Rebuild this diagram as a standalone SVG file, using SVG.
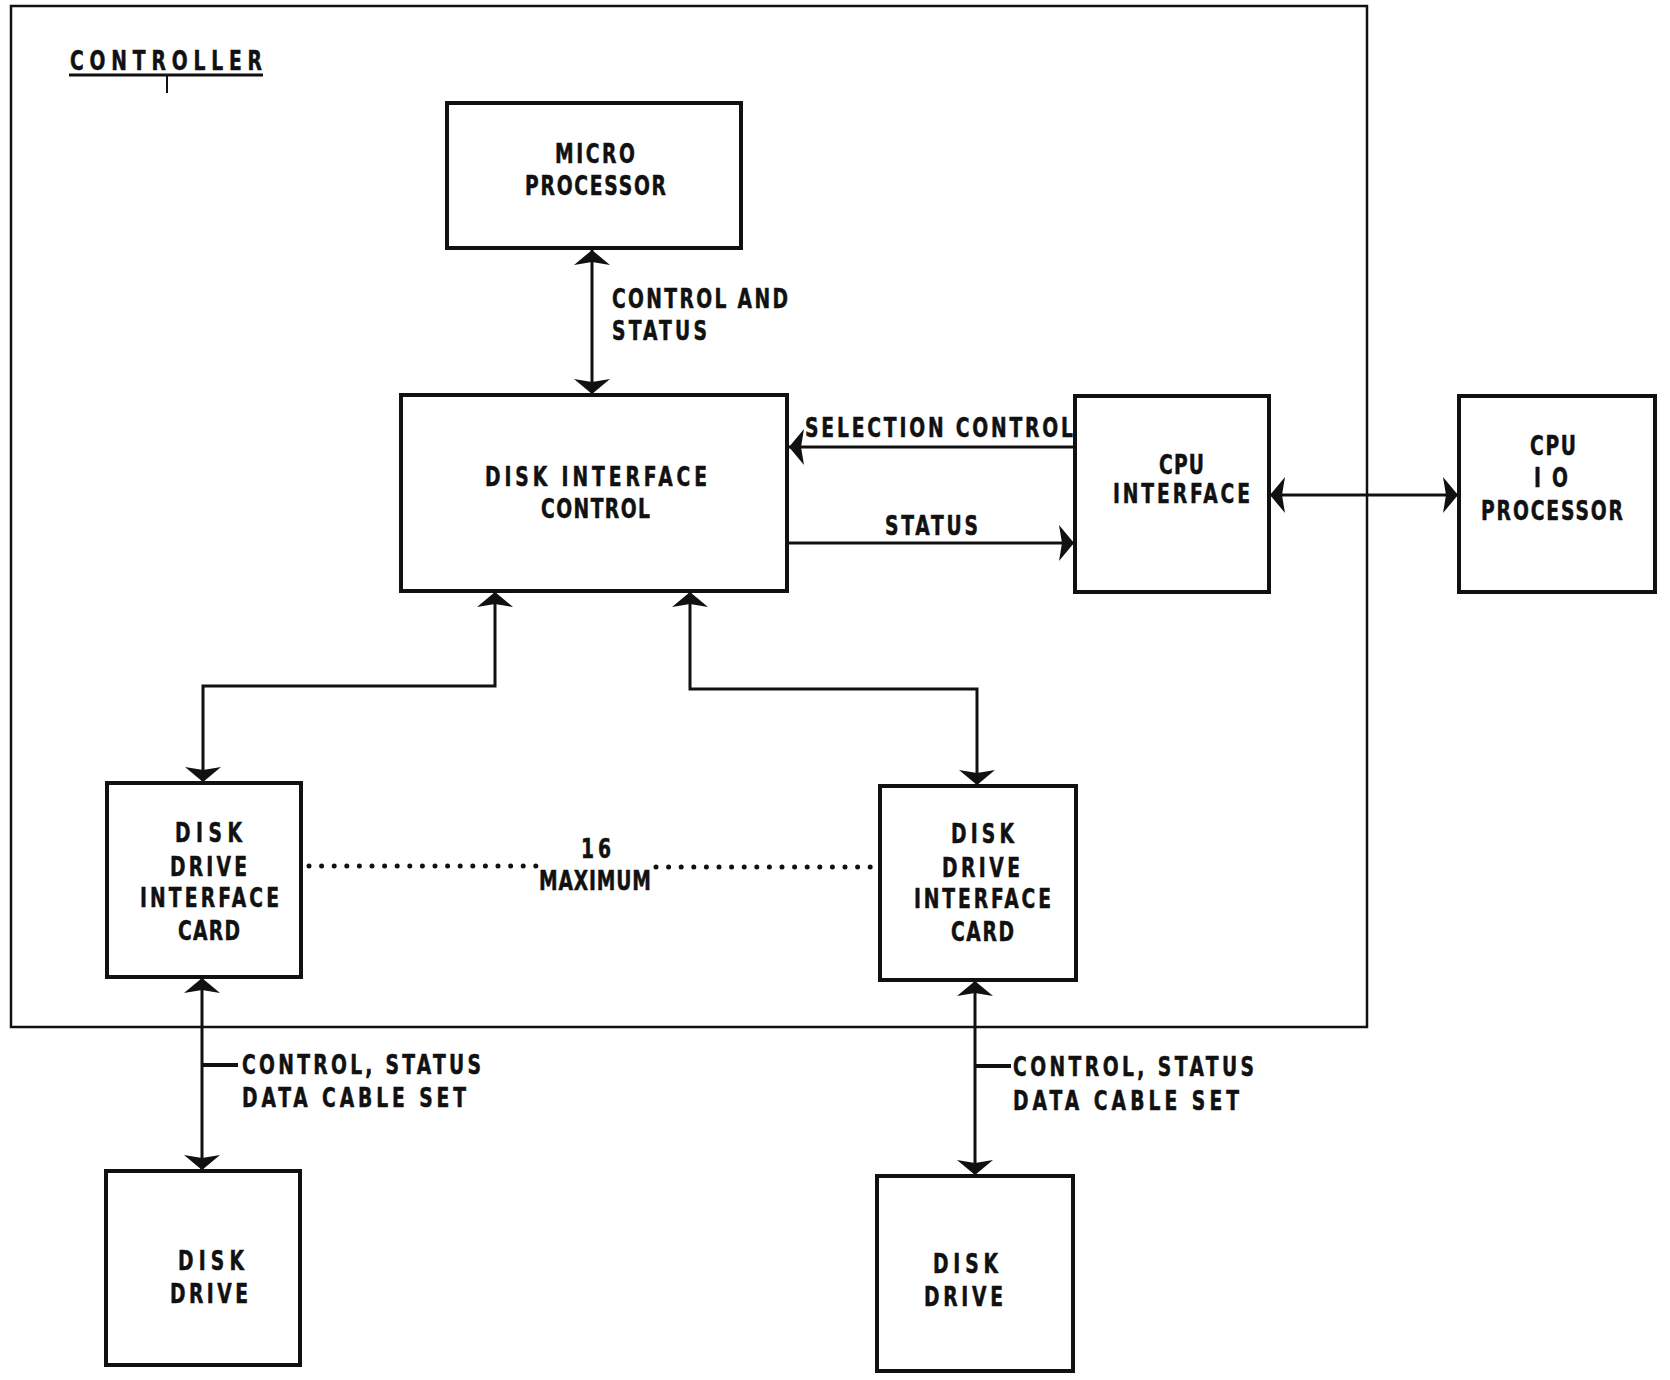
<svg xmlns="http://www.w3.org/2000/svg" width="1670" height="1380" viewBox="0 0 1670 1380">
<style>
  .box { fill: none; stroke: #111; stroke-width: 4; }
  .outer { fill: none; stroke: #111; stroke-width: 2.5; }
  .wire { fill: none; stroke: #111; stroke-width: 3; }
  .tick { fill: none; stroke: #111; stroke-width: 4; }
  .dots { fill: none; stroke: #111; stroke-width: 5; stroke-linecap: round; stroke-dasharray: 0 12.6; }
  text { font-family: "DejaVu Sans Condensed", "DejaVu Sans", sans-serif; font-weight: bold; font-size: 26px; fill: #111; stroke: #111; stroke-width: 0.5; }
</style>
<defs>
  <marker id="ah" viewBox="0 -18 15 36" markerUnits="userSpaceOnUse" markerWidth="15" markerHeight="36" refX="15" refY="0" orient="auto-start-reverse">
    <path d="M0,-18 L15,0 L0,18 L3,0 Z" fill="#111"/>
  </marker>
</defs>
<rect width="1670" height="1380" fill="#fff"/>

<g id="controller">
  <rect class="outer" x="11" y="6" width="1356" height="1021"/>
  <text transform="scale(0.8,1)" x="87.5" y="70" textLength="240" lengthAdjust="spacing">CONTROLLER</text>
  <line class="wire" x1="69" y1="75" x2="263" y2="75"/>
  <line x1="167" y1="75" x2="167" y2="93" stroke="#111" stroke-width="2"/>
</g>

<g id="micro-processor">
  <rect class="box" x="447" y="103" width="294" height="145"/>
  <text transform="scale(0.8,1)" x="693.75" y="163" textLength="100" lengthAdjust="spacing">MICRO</text>
  <text transform="scale(0.8,1)" x="656.25" y="195" textLength="176.25" lengthAdjust="spacing">PROCESSOR</text>
</g>

<g id="disk-interface-control">
  <rect class="box" x="401" y="395" width="386" height="196"/>
  <text transform="scale(0.8,1)" x="606.25" y="486" textLength="277.5" lengthAdjust="spacing">DISK INTERFACE</text>
  <text transform="scale(0.8,1)" x="676.25" y="518" textLength="136.25" lengthAdjust="spacing">CONTROL</text>
</g>

<g id="cpu-interface">
  <rect class="box" x="1075" y="396" width="194" height="196"/>
  <text transform="scale(0.8,1)" x="1448.75" y="474" textLength="56.25" lengthAdjust="spacing">CPU</text>
  <text transform="scale(0.8,1)" x="1391.25" y="503" textLength="171.25" lengthAdjust="spacing">INTERFACE</text>
</g>

<g id="cpu-io-processor">
  <rect class="box" x="1459" y="396" width="196" height="196"/>
  <text transform="scale(0.8,1)" x="1912.5" y="455" textLength="57.5" lengthAdjust="spacing">CPU</text>
  <text transform="scale(0.8,1)" x="1917.5" y="487" textLength="42.5" lengthAdjust="spacing">IO</text>
  <text transform="scale(0.8,1)" x="1851.25" y="520" textLength="177.5" lengthAdjust="spacing">PROCESSOR</text>
</g>

<g id="disk-drive-interface-card-1">
  <rect class="box" x="107" y="783" width="194" height="194"/>
  <text transform="scale(0.8,1)" x="218.75" y="842" textLength="83.75" lengthAdjust="spacing">DISK</text>
  <text transform="scale(0.8,1)" x="212.5" y="876" textLength="96.25" lengthAdjust="spacing">DRIVE</text>
  <text transform="scale(0.8,1)" x="175" y="907" textLength="173.75" lengthAdjust="spacing">INTERFACE</text>
  <text transform="scale(0.8,1)" x="222.5" y="940" textLength="77.5" lengthAdjust="spacing">CARD</text>
</g>

<g id="disk-drive-interface-card-2">
  <rect class="box" x="880" y="786" width="196" height="194"/>
  <text transform="scale(0.8,1)" x="1188.75" y="843" textLength="78.75" lengthAdjust="spacing">DISK</text>
  <text transform="scale(0.8,1)" x="1177.5" y="877" textLength="97.5" lengthAdjust="spacing">DRIVE</text>
  <text transform="scale(0.8,1)" x="1142.5" y="908" textLength="171.25" lengthAdjust="spacing">INTERFACE</text>
  <text transform="scale(0.8,1)" x="1188.75" y="941" textLength="78.75" lengthAdjust="spacing">CARD</text>
</g>

<g id="disk-drive-1">
  <rect class="box" x="106" y="1171" width="194" height="194"/>
  <text transform="scale(0.8,1)" x="222.5" y="1270" textLength="82.5" lengthAdjust="spacing">DISK</text>
  <text transform="scale(0.8,1)" x="212.5" y="1303" textLength="97.5" lengthAdjust="spacing">DRIVE</text>
</g>

<g id="disk-drive-2">
  <rect class="box" x="877" y="1176" width="196" height="195"/>
  <text transform="scale(0.8,1)" x="1166.25" y="1273" textLength="81.25" lengthAdjust="spacing">DISK</text>
  <text transform="scale(0.8,1)" x="1155" y="1306" textLength="98.75" lengthAdjust="spacing">DRIVE</text>
</g>

<g id="connectors">
  <line class="wire" x1="592" y1="250" x2="592" y2="394" marker-start="url(#ah)" marker-end="url(#ah)"/>
  <text transform="scale(0.8,1)" x="765" y="308" textLength="220" lengthAdjust="spacing">CONTROL AND</text>
  <text transform="scale(0.8,1)" x="765" y="340" textLength="118.75" lengthAdjust="spacing">STATUS</text>

  <line class="wire" x1="1074" y1="447" x2="789" y2="447" marker-end="url(#ah)"/>
  <text transform="scale(0.8,1)" x="1006.25" y="437" textLength="335" lengthAdjust="spacing">SELECTION CONTROL</text>

  <line class="wire" x1="788" y1="543" x2="1074" y2="543" marker-end="url(#ah)"/>
  <text transform="scale(0.8,1)" x="1106.25" y="535" textLength="116.25" lengthAdjust="spacing">STATUS</text>

  <line class="wire" x1="1270" y1="495" x2="1458" y2="495" marker-start="url(#ah)" marker-end="url(#ah)"/>

  <path class="wire" d="M495,592 V686 H203 V782" marker-start="url(#ah)" marker-end="url(#ah)"/>
  <path class="wire" d="M690,592 V689 H977 V785" marker-start="url(#ah)" marker-end="url(#ah)"/>

  <line class="dots" x1="309" y1="866" x2="537" y2="866"/>
  <line class="dots" x1="656" y1="867" x2="874" y2="867"/>
  <text transform="scale(0.8,1)" x="726.25" y="858" textLength="37.5" lengthAdjust="spacing">16</text>
  <text transform="scale(0.8,1)" x="673.75" y="890" textLength="140" lengthAdjust="spacing">MAXIMUM</text>

  <line class="wire" x1="202" y1="978" x2="202" y2="1170" marker-start="url(#ah)" marker-end="url(#ah)"/>
  <line class="tick" x1="202" y1="1065" x2="238" y2="1065"/>
  <text transform="scale(0.8,1)" x="302.5" y="1074" textLength="298.75" lengthAdjust="spacing">CONTROL, STATUS</text>
  <text transform="scale(0.8,1)" x="302.5" y="1107" textLength="280" lengthAdjust="spacing">DATA CABLE SET</text>

  <line class="wire" x1="975" y1="981" x2="975" y2="1175" marker-start="url(#ah)" marker-end="url(#ah)"/>
  <line class="tick" x1="975" y1="1066" x2="1011" y2="1066"/>
  <text transform="scale(0.8,1)" x="1266.25" y="1076" textLength="301.25" lengthAdjust="spacing">CONTROL, STATUS</text>
  <text transform="scale(0.8,1)" x="1266.25" y="1110" textLength="282.5" lengthAdjust="spacing">DATA CABLE SET</text>
</g>
</svg>
